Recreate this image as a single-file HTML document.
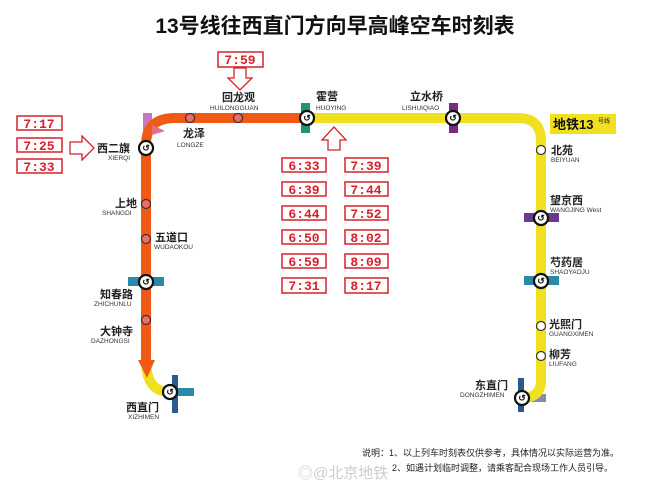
<!DOCTYPE html>
<html><head><meta charset="utf-8"><style>
html,body{margin:0;padding:0;background:#fff;}
svg{display:block;font-family:"Liberation Sans","Noto Sans CJK SC",sans-serif;}
.cn{font-size:11px;fill:#222;font-weight:bold;}
.en{font-size:6.5px;fill:#333;}
.tb{fill:#fff;stroke:#d8202a;stroke-width:1.5;}
.tt{font-size:13px;fill:#d8202a;font-family:"Liberation Mono",monospace;font-weight:bold;text-anchor:middle;}
</style></head><body>
<svg width="661" height="496" viewBox="0 0 661 496" xmlns="http://www.w3.org/2000/svg">
<rect width="661" height="496" fill="#fff"/>
<text x="335" y="33" text-anchor="middle" font-size="21" font-weight="bold" fill="#111" font-family="Liberation Sans,Noto Sans CJK SC,sans-serif">13号线往西直门方向早高峰空车时刻表</text>

<rect x="143" y="113" width="9" height="22" fill="#c878c0"/>
<rect x="301" y="103" width="9" height="30" fill="#1a9a6a"/>
<rect x="449" y="103" width="9" height="30" fill="#7a2a80"/>
<rect x="524" y="213" width="35" height="9" fill="#6a3a90"/>
<rect x="524" y="276" width="35" height="9" fill="#2a8aa8"/>
<rect x="128" y="277" width="36" height="9" fill="#2a8aa8"/>
<rect x="162" y="388" width="32" height="8" fill="#2a8aa8"/>
<rect x="172" y="375" width="6" height="38" fill="#2a5a90"/>
<rect x="526" y="394" width="20" height="8" fill="#8a8aaa"/>
<rect x="518" y="378" width="6" height="34" fill="#2a5a90"/>

<path d="M307 118 H518 Q541 118 541 141 V380 Q541 398 522 398" fill="none" stroke="#f0e020" stroke-width="10"/>
<path d="M146 360 Q146 392 170 392" fill="none" stroke="#f0e020" stroke-width="10"/>
<path d="M146 160 V148" stroke="#f0e020" stroke-width="10"/>
<path d="M307 118 H175 Q146 118 146 145" fill="none" stroke="#f05a14" stroke-width="10"/>
<path d="M146 150 V362" fill="none" stroke="#f05a14" stroke-width="10"/>
<polygon points="138,360 155,360 147,378" fill="#f05a14"/>
<polygon points="152,125 165,131 152,135" fill="#e07088"/>

<g stroke="#333" stroke-width="1.2">
<circle cx="190" cy="118" r="4.5" fill="#f06a6a"/>
<circle cx="238" cy="118" r="4.5" fill="#f06a6a"/>
<circle cx="146" cy="204" r="4.5" fill="#f06a6a"/>
<circle cx="146" cy="239" r="4.5" fill="#f06a6a"/>
<circle cx="146" cy="320" r="4.5" fill="#f06a6a"/>
<circle cx="541" cy="150" r="4.5" fill="#fff"/>
<circle cx="541" cy="326" r="4.5" fill="#fff"/>
<circle cx="541" cy="356" r="4.5" fill="#fff"/>
</g>
<g fill="#fff" stroke="#111" stroke-width="2.2">
<circle cx="146" cy="148" r="7"/><circle cx="307" cy="118" r="7"/><circle cx="453" cy="118" r="7"/>
<circle cx="541" cy="218" r="7"/><circle cx="541" cy="281" r="7"/><circle cx="146" cy="282" r="7"/>
<circle cx="170" cy="392" r="7"/><circle cx="522" cy="398" r="7"/>
</g>
<g font-size="9" font-weight="bold" text-anchor="middle" fill="#111">
<text x="146" y="151">↺</text><text x="307" y="121">↺</text><text x="453" y="121">↺</text>
<text x="541" y="221">↺</text><text x="541" y="284">↺</text><text x="146" y="285">↺</text>
<text x="170" y="395">↺</text><text x="522" y="401">↺</text>
</g>

<text class="cn" x="97" y="152">西二旗</text><text class="en" x="108" y="160">XIERQI</text>
<text class="cn" x="183" y="137">龙泽</text><text class="en" x="177" y="147">LONGZE</text>
<text class="cn" x="222" y="101">回龙观</text><text class="en" x="210" y="110">HUILONGGUAN</text>
<text class="cn" x="316" y="100">霍营</text><text class="en" x="316" y="110">HUOYING</text>
<text class="cn" x="410" y="100">立水桥</text><text class="en" x="402" y="110">LISHUIQIAO</text>
<rect x="550" y="114" width="66" height="20" fill="#f0e020"/>
<text x="553" y="129" font-size="13" font-weight="bold" fill="#111">地铁13</text><text x="598" y="123" font-size="6" fill="#111">号线</text>
<text class="cn" x="551" y="154">北苑</text><text class="en" x="551" y="162">BEIYUAN</text>
<text class="cn" x="550" y="204">望京西</text><text class="en" x="550" y="212">WANGJING West</text>
<text class="cn" x="550" y="266">芍药居</text><text class="en" x="550" y="274">SHAOYAOJU</text>
<text class="cn" x="549" y="328">光熙门</text><text class="en" x="549" y="336">GUANGXIMEN</text>
<text class="cn" x="549" y="358">柳芳</text><text class="en" x="549" y="366">LIUFANG</text>
<text class="cn" x="475" y="389">东直门</text><text class="en" x="460" y="397">DONGZHIMEN</text>
<text class="cn" x="115" y="207">上地</text><text class="en" x="102" y="215">SHANGDI</text>
<text class="cn" x="155" y="241">五道口</text><text class="en" x="154" y="249">WUDAOKOU</text>
<text class="cn" x="100" y="298">知春路</text><text class="en" x="94" y="306">ZHICHUNLU</text>
<text class="cn" x="100" y="335">大钟寺</text><text class="en" x="91" y="343">DAZHONGSI</text>
<text class="cn" x="126" y="411">西直门</text><text class="en" x="128" y="419">XIZHIMEN</text>

<rect class="tb" x="218" y="52" width="45" height="15"/><text class="tt" x="240" y="64">7:59</text>
<polygon points="234,68 246,68 246,78 252,78 240,90 228,78 234,78" fill="#fff" stroke="#d8202a" stroke-width="1.3"/>
<rect class="tb" x="17" y="116" width="45" height="14"/><text class="tt" x="39" y="128">7:17</text>
<rect class="tb" x="17" y="138" width="45" height="14"/><text class="tt" x="39" y="150">7:25</text>
<rect class="tb" x="17" y="159" width="45" height="14"/><text class="tt" x="39" y="171">7:33</text>
<polygon points="70,142 82,142 82,136 94,148 82,160 82,154 70,154" fill="#fff" stroke="#d8202a" stroke-width="1.3"/>
<polygon points="328,150 328,140 322,140 334,127 346,140 340,140 340,150" fill="#fff" stroke="#d8202a" stroke-width="1.3"/>
<g>
<rect class="tb" x="282" y="158" width="44" height="14"/><text class="tt" x="304" y="170">6:33</text>
<rect class="tb" x="345" y="158" width="43" height="14"/><text class="tt" x="366" y="170">7:39</text>
<rect class="tb" x="282" y="182" width="44" height="14"/><text class="tt" x="304" y="194">6:39</text>
<rect class="tb" x="345" y="182" width="43" height="14"/><text class="tt" x="366" y="194">7:44</text>
<rect class="tb" x="282" y="206" width="44" height="14"/><text class="tt" x="304" y="218">6:44</text>
<rect class="tb" x="345" y="206" width="43" height="14"/><text class="tt" x="366" y="218">7:52</text>
<rect class="tb" x="282" y="230" width="44" height="14"/><text class="tt" x="304" y="242">6:50</text>
<rect class="tb" x="345" y="230" width="43" height="14"/><text class="tt" x="366" y="242">8:02</text>
<rect class="tb" x="282" y="254" width="44" height="14"/><text class="tt" x="304" y="266">6:59</text>
<rect class="tb" x="345" y="254" width="43" height="14"/><text class="tt" x="366" y="266">8:09</text>
<rect class="tb" x="282" y="278" width="44" height="15"/><text class="tt" x="304" y="290">7:31</text>
<rect class="tb" x="345" y="278" width="43" height="15"/><text class="tt" x="366" y="290">8:17</text>
</g>

<text x="298" y="478" font-size="15" fill="#ccc">◎@北京地铁</text>
<text x="362" y="456" font-size="9" fill="#222">说明：1、以上列车时刻表仅供参考，具体情况以实际运营为准。</text>
<text x="392" y="471" font-size="9" fill="#222">2、如遇计划临时调整，请乘客配合现场工作人员引导。</text>
</svg>
</body></html>
